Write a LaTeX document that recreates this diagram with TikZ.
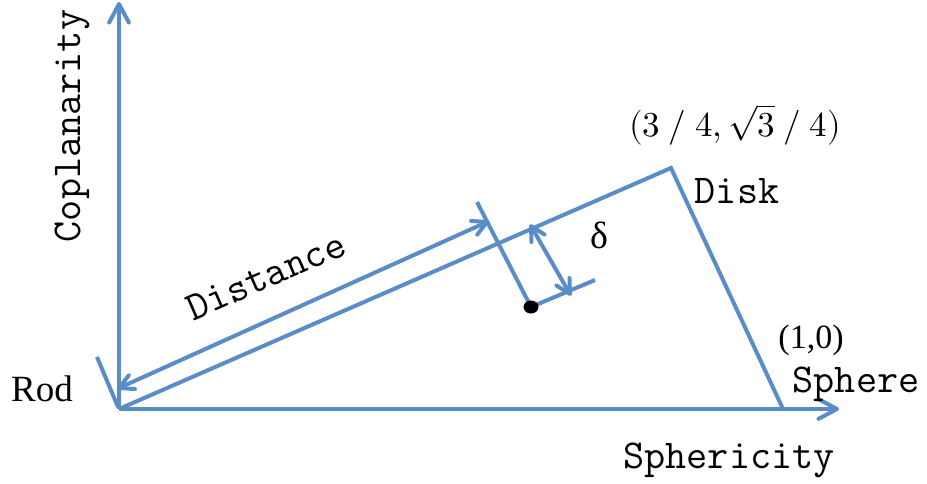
\documentclass[tikz,border=0pt]{standalone}
\usepackage{unicode-math}
\setmainfont{Liberation Serif}
\usetikzlibrary{calc}
\definecolor{lb}{HTML}{5A8CC8}
\tikzset{
  ln/.style={draw=lb, line width=4pt},
  headln/.style={draw=lb, line width=4pt, line join=round, line cap=round},
  mono/.style={font=\ttfamily\fontsize{41}{48}\selectfont, inner sep=0pt},
  serif/.style={font=\fontsize{37}{44}\selectfont, inner sep=0pt},
}
% #1 length, #2 tip, #3 a point the line comes from
\newcommand\arrowhd[3]{\draw[headln] ($(#2)!#1!28:(#3)$) -- (#2) -- ($(#2)!#1!-28:(#3)$);}
\begin{document}
\begin{tikzpicture}[x=1pt,y=-1pt]
\useasboundingbox (0,0) rectangle (927,483);
% key points
\coordinate (O) at (119,409);
\coordinate (D) at (671,168);
\coordinate (S) at (783,409);
\coordinate (Ytop) at (119,4);
\coordinate (Xend) at (837,409);
\coordinate (T1) at (97,357);
\coordinate (T1b) at (118,407);
\coordinate (A1) at (119,388);
\coordinate (A2) at (487,222);
\coordinate (T2) at (477,202);
\coordinate (P) at (531,307);
\coordinate (B1) at (531,226);
\coordinate (B2) at (570,294);
\coordinate (Q) at (595,280);
% axes
\draw[ln] (O) -- (Ytop);
\arrowhd{21pt}{Ytop}{O}
\draw[ln] (O) -- (Xend);
\arrowhd{21pt}{Xend}{O}
% triangle
\draw[ln, line join=miter] (O) -- (D) -- (S);
% distance dimension
\draw[ln] (T1) -- (T1b);
\draw[ln] (T2) -- (P);
\draw[ln] (A1) -- (A2);
\arrowhd{16pt}{A1}{A2}
\arrowhd{16pt}{A2}{A1}
% delta
\draw[ln] (P) -- (Q);
\draw[ln] (B1) -- (B2);
\arrowhd{16pt}{B1}{B2}
\arrowhd{16pt}{B2}{B1}
\fill[black] (P) ellipse [x radius=7.5pt, y radius=6.5pt];
% labels
\node[mono, rotate=90, anchor=base] (cop) at (80,126) {Coplanarity};
\node[mono, anchor=base] (sph) at (729,468) {Sphericity};
\node[mono, anchor=base] (sphere) at (856,392) {Sphere};
\node[mono, anchor=base] (disk) at (737,203) {Disk};
\node[mono, rotate=23.6, anchor=center] (dist) at (266,276) {Distance};
\node[serif, anchor=base] (rod) at (42,401) {Rod};
\node[font=\fontsize{34}{40}\selectfont, inner sep=0pt, anchor=base] (one) at (811,348) {(1,0)};
\node[font=\fontsize{35}{42}\selectfont, inner sep=0pt, anchor=base] (dk) at (735,136) {$(3\ /\ 4,\sqrt{3}\ /\ 4)$};
\node[font=\fontsize{38}{46}\selectfont, inner sep=0pt, anchor=base] (del) at (599,248) {δ};
\end{tikzpicture}
\end{document}
